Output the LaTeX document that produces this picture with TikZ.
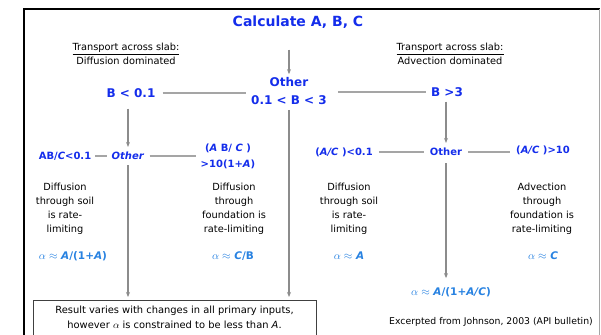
\documentclass[tikz,border=0pt]{standalone}
\usepackage{amsmath,amssymb}
\usepackage{fontspec}
\setmainfont{DejaVu Sans}
\usepackage{tikz}
\usetikzlibrary{arrows.meta}
\usepackage{xcolor}
\definecolor{decblue}{RGB}{20,45,235}
\definecolor{alphablue}{RGB}{40,130,225}
\definecolor{linegray}{RGB}{165,165,165}

\begin{document}
\begin{tikzpicture}[x=1pt,y=-1pt,>={Stealth[length=5pt,width=4pt]},font=\fontsize{9.8}{14}\selectfont,
  cond/.style={text=decblue,font=\fontsize{10}{16}\selectfont\bfseries,align=center,inner sep=1pt},
  bigcond/.style={text=decblue,font=\fontsize{12}{18}\selectfont\bfseries,align=center,inner sep=1pt},
  desc/.style={align=center,inner sep=1pt},
  rate/.style={text=alphablue,font=\fontsize{10.5}{13}\selectfont\bfseries,inner sep=1pt},
  link/.style={linegray,line width=2.2pt},
  flow/.style={->,linegray!85!black,line width=1.6pt}]
\useasboundingbox (0,0) rectangle (601,334);
% frame
\draw[black,line width=2.6pt] (24,345) -- (24,9) -- (600,9);
\draw[linegray,line width=1pt] (599,9) -- (599,345);

% top level
\node[bigcond,font=\fontsize{14}{16}\selectfont\bfseries] (calc) at (298,22) {Calculate A, B, C};
\node[bigcond] (mid) at (289,91) {Other\\0.1 < B < 3};
\node[bigcond] (blow) at (131,93) {B < 0.1};
\node[bigcond] (bhigh) at (447,92) {B >3};
\node[desc] (tl) at (126,54) {\underline{Transport across slab:}\\Diffusion dominated};
\node[desc] (tr) at (450,54) {\underline{Transport across slab:}\\Advection dominated};

% second level
\node[cond] (l1) at (65,156) {AB/\textit{C}<0.1};
\node[cond] (l2) at (128,156) {\textit{Other}};
\node[cond] (l3) at (228,156) {(\textit{A} B/ \textit{C} )\\>10(1+\textit{A})};
\node[cond] (r1) at (344,152) {(\textit{A/C} )<0.1};
\node[cond] (r2) at (446,152) {Other};
\node[cond] (r3) at (543,150) {(\textit{A/C} )>10};

% descriptions
\node[desc] (d1) at (65,209) {Diffusion\\through soil\\is rate-\\limiting};
\node[desc] (d2) at (234,209) {Diffusion\\through\\foundation is\\rate-limiting};
\node[desc] (d3) at (349,209) {Diffusion\\through soil\\is rate-\\limiting};
\node[desc] (d4) at (542,209) {Advection\\through\\foundation is\\rate-limiting};

% rates
\node[rate] (a1) at (73,256) {$\alpha\approx$ \textit{A}/(1+\textit{A})};
\node[rate] (a2) at (233,256) {$\alpha\approx$ \textit{C}/B};
\node[rate] (a3) at (349,256) {$\alpha\approx$ \textit{A}};
\node[rate] (a4) at (543,256) {$\alpha\approx$ \textit{C}};
\node[rate] (a5) at (451,292) {$\alpha\approx$ \textit{A}/(1+\textit{A/C})};

\node[draw=black!75,line width=0.8pt,anchor=north,minimum width=283,align=center,
  inner xsep=3pt,inner ysep=6pt,font=\fontsize{9.9}{15}\selectfont] (res) at (174.5,300)
  {Result varies with changes in all primary inputs,\\however $\alpha$ is constrained to be less than \textit{A}.\\[2pt]};
\node[font=\fontsize{9.3}{11}\selectfont] (src) at (491,322) {Excerpted from Johnson, 2003 (API bulletin)};

% connectors
\draw[flow,shorten <=20pt,shorten >=2pt] (calc.south -| mid.north) -- (mid.north);
\draw[link,shorten <=6pt,shorten >=4pt] (blow.east) -- (blow.east -| mid.west);
\draw[link,shorten <=10pt,shorten >=4pt] (mid.east |- bhigh.west) -- (bhigh.west);
\draw[flow,shorten <=10pt,shorten >=4pt] (blow.south -| l2.north) -- (l2.north);
\draw[link,shorten <=3pt,shorten >=3pt] (l1.east) -- (l2.west);
\draw[link,shorten <=4pt,shorten >=4pt] (l2.east) -- (l3.west);
\draw[flow,shorten <=4pt,shorten >=3pt] (l2.south) -- (l2.south |- res.north);
\draw[flow,shorten <=4pt,shorten >=3pt] (mid.south) -- (mid.south |- res.north);
\draw[flow,shorten <=4pt,shorten >=4pt] (bhigh.south -| r2.north) -- (r2.north);
\draw[link,shorten <=5pt,shorten >=5pt] (r1.east) -- (r2.west);
\draw[link,shorten <=5pt,shorten >=5pt] (r2.east) -- (r3.west |- r2.east);
\draw[flow,shorten <=6pt,shorten >=8pt] (r2.south) -- (r2.south |- a5.north);
\end{tikzpicture}
\end{document}
